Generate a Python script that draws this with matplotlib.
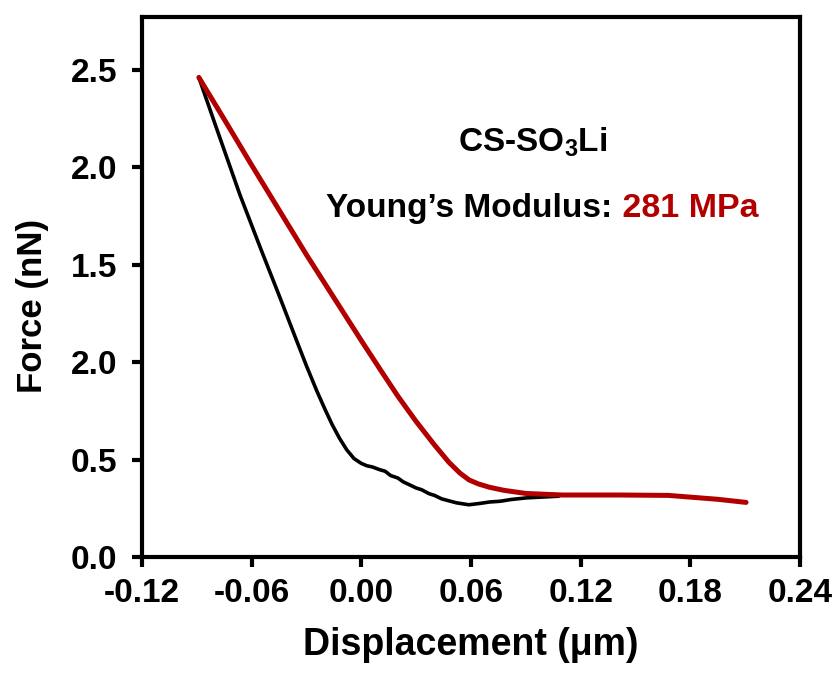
import matplotlib
matplotlib.use("Agg")
import matplotlib.pyplot as plt

plt.rcParams['font.family'] = ['Liberation Sans', 'DejaVu Sans']
plt.rcParams['font.weight'] = 'bold'
plt.rcParams['mathtext.fontset'] = 'custom'
plt.rcParams['mathtext.rm'] = 'Liberation Sans:bold'
plt.rcParams['mathtext.bf'] = 'Liberation Sans:bold'
plt.rcParams['mathtext.it'] = 'Liberation Sans:bold'

# Approach (red) curve
red_x = [-0.0889, -0.0750, -0.0600, -0.0450, -0.0300, -0.0150, 0.0000, 0.0115,
         0.0200, 0.0300, 0.0400, 0.0480, 0.0540, 0.0590, 0.0640, 0.0700,
         0.0780, 0.0900, 0.1100, 0.1407, 0.1680, 0.1950, 0.2105]
red_y = [2.46, 2.245, 2.010, 1.780, 1.550, 1.330, 1.110, 0.945,
         0.825, 0.695, 0.575, 0.485, 0.430, 0.395, 0.375, 0.358,
         0.342, 0.326, 0.318, 0.318, 0.316, 0.296, 0.280]

# Retract (black) curve
black_x = [-0.0889, -0.0800, -0.0665, -0.0550, -0.0447, -0.0350, -0.0300, -0.0245,
           -0.0200, -0.0160, -0.0120, -0.0080, -0.0040, 0.0000, 0.0030, 0.0060,
           0.0100, 0.0130, 0.0160, 0.0200, 0.0230, 0.0260, 0.0300, 0.0330,
           0.0370, 0.0400, 0.0440, 0.0480, 0.0520, 0.0560, 0.0589, 0.0650,
           0.0700, 0.0760, 0.0820, 0.0900, 0.1000, 0.1080]
black_y = [2.46, 2.22, 1.860, 1.580, 1.335, 1.100, 0.980, 0.855,
           0.760, 0.680, 0.610, 0.550, 0.505, 0.480, 0.468, 0.462,
           0.448, 0.440, 0.418, 0.405, 0.385, 0.372, 0.354, 0.345,
           0.325, 0.316, 0.298, 0.288, 0.278, 0.272, 0.268, 0.275,
           0.282, 0.286, 0.295, 0.303, 0.308, 0.312]

x_ticks = [-0.12, -0.06, 0.00, 0.06, 0.12, 0.18, 0.24]
x_tick_labels = ['-0.12', '-0.06', '0.00', '0.06', '0.12', '0.18', '0.24']
y_ticks = [0.0, 0.5, 1.0, 1.5, 2.0, 2.5]
y_tick_labels = ['0.0', '0.5', '2.0', '1.5', '2.0', '2.5']

RED = '#b20000'

fig = plt.figure(figsize=(8.37, 6.77), dpi=100)
ax = fig.add_axes([142/837, 1 - 557/677, (800-142)/837, (557-17)/677])

ax.plot(black_x, black_y, color='black', lw=2.6, solid_capstyle='round',
        solid_joinstyle='round', zorder=2)
ax.plot(red_x, red_y, color=RED, lw=3.6, solid_capstyle='round',
        solid_joinstyle='round', zorder=3)

ax.set_xlim(-0.12, 0.24)
ax.set_ylim(0, 2.77)
ax.set_xticks(x_ticks)
ax.set_xticklabels(x_tick_labels)
ax.set_yticks(y_ticks)
ax.set_yticklabels(y_tick_labels)

for s in ax.spines.values():
    s.set_linewidth(3.0)
ax.tick_params(direction='out', length=7, width=3, labelsize=24)
ax.tick_params(axis='x', pad=8)
ax.tick_params(axis='y', pad=11)
for lab in ax.get_xticklabels() + ax.get_yticklabels():
    lab.set_fontweight('bold')

ax.set_xlabel('Displacement (μm)', fontsize=27, fontweight='bold')
ax.set_ylabel('Force (nN)', fontsize=25, fontweight='bold')
ax.xaxis.set_label_coords(0.5, -0.13)
ax.yaxis.set_label_coords(-0.142, 0.465)

ax.text(0.0935, 2.079, r'CS-SO$_\mathrm{3}$Li', fontsize=24, fontweight='bold',
        ha='center', va='baseline', color='black')
ax.text(0.1375, 1.745, "Young’s Modulus:", fontsize=24, fontweight='bold',
        ha='right', va='baseline', color='black')
ax.text(0.1375, 1.745, " 281 MPa", fontsize=24.5, fontweight='bold',
        ha='left', va='baseline', color=RED)

fig.savefig('out.png', dpi=100)
